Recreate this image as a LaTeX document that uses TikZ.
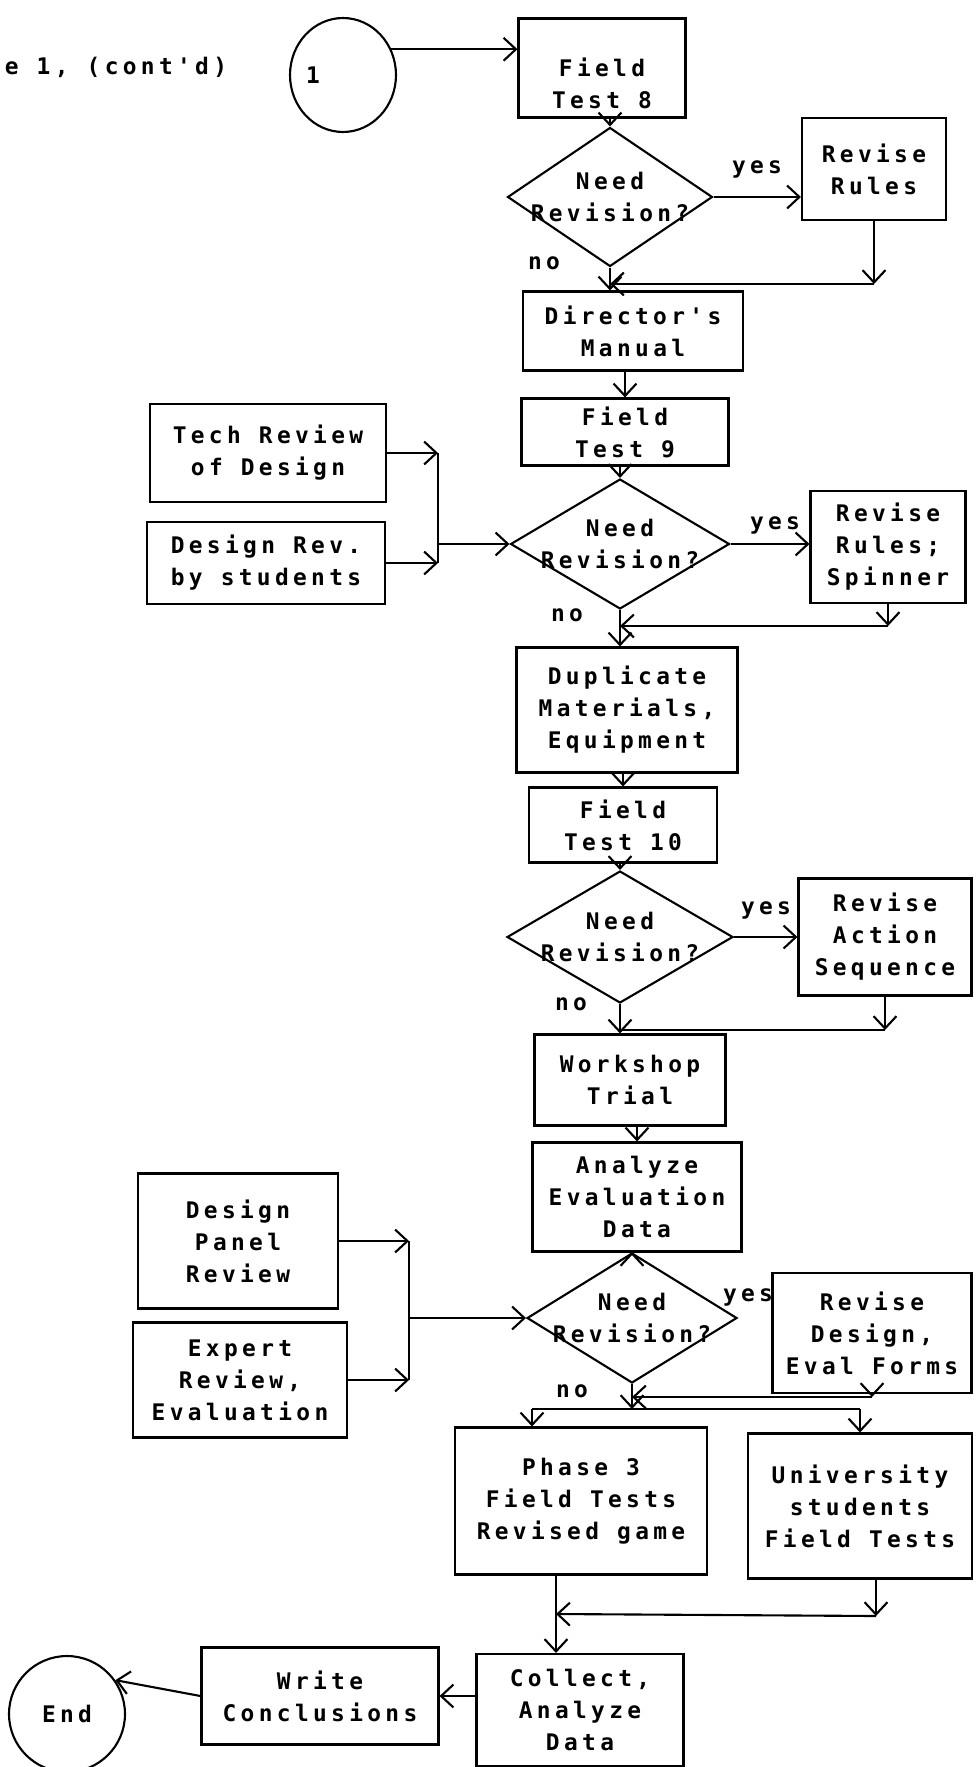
\documentclass[tikz,border=0pt]{standalone}
\usepackage{fontspec}
\newfontfamily\typewriter[LetterSpace=19]{DejaVu Sans Mono}
\usetikzlibrary{positioning, arrows.meta, shapes.geometric}

\begin{document}
\begin{tikzpicture}[x=0.02cm, y=-0.02cm, line width=1.2pt,
    every node/.style={font=\typewriter\bfseries\fontsize{13}{18.2}\selectfont},
    box/.style={draw, rectangle, align=center, inner sep=0pt},
    decision/.style={draw, diamond, aspect=1.6, align=center, inner sep=-9pt},
    terminal/.style={draw, ellipse, inner sep=0pt},
    arr/.style={-{Straight Barb[length=7pt, width=13pt]}}]
    \useasboundingbox (0,0) rectangle (976,1767);

    % --- continued from the first sheet ---
    \node[anchor=west] (title) at (-2,67) {e 1, (cont'd)};
    \node[terminal, minimum width=2.12cm, minimum height=2.28cm,
          text width=1.48cm, align=left] (start) at (343,75) {1};

    % --- field test 8 ---
    \node[box, minimum width=3.34cm, minimum height=1.98cm] (ft8) at (602,68) {\rule{0pt}{1cm}Field\\Test 8};
    \node[decision, minimum width=4.1cm, minimum height=2.78cm] (q1) at (610,197) {Need\\Revision?};
    \node[box, minimum width=2.88cm, minimum height=2.04cm] (rev1) at (874,169) {Revise\\Rules};
    \node (yes1) at (757,169) {yes};
    \node (no1) at (544,263) {no};
    \node[box, minimum width=4.4cm, minimum height=1.58cm] (dirman) at (633,331) {Director's\\Manual};

    % --- field test 9 ---
    \node[box, minimum width=4.14cm, minimum height=1.34cm] (ft9) at (625,432) {Field\\Test 9};
    \node[decision, minimum width=4.38cm, minimum height=2.6cm] (q2) at (620,544) {Need\\Revision?};
    \node[box, minimum width=3.1cm, minimum height=2.24cm] (rev2) at (888,547) {Revise\\Rules;\\Spinner};
    \node (yes2) at (775,525) {yes};
    \node (no2) at (567,615) {no};
    \node[box, minimum width=4.72cm, minimum height=1.96cm] (tech) at (268,453) {Tech Review\\of Design};
    \node[box, minimum width=4.76cm, minimum height=1.64cm] (studrev) at (266,563) {Design Rev.\\by students};
    \node[box, minimum width=4.42cm, minimum height=2.5cm] (dup) at (627,710) {Duplicate\\Materials,\\Equipment};

    % --- field test 10 ---
    \node[box, minimum width=3.76cm, minimum height=1.5cm] (ft10) at (623,825) {Field\\Test 10};
    \node[decision, minimum width=4.52cm, minimum height=2.64cm] (q3) at (620,937) {Need\\Revision?};
    \node[box, minimum width=3.46cm, minimum height=2.34cm] (rev3) at (885,937) {Revise\\Action\\Sequence};
    \node (yes3) at (766,910) {yes};
    \node (no3) at (571,1004) {no};

    % --- workshop and evaluation ---
    \node[box, minimum width=3.82cm, minimum height=1.82cm] (workshop) at (630,1080) {Workshop\\Trial};
    \node[box, minimum width=4.18cm, minimum height=2.18cm] (analyze) at (637,1197) {Analyze\\Evaluation\\Data};
    \node[decision, minimum width=4.2cm, minimum height=2.6cm] (q4) at (632,1318) {Need\\Revision?};
    \node[box, minimum width=3.98cm, minimum height=2.4cm] (rev4) at (872,1333) {Revise\\Design,\\Eval Forms};
    \node (yes4) at (748,1297) {yes};
    \node (no4) at (572,1391) {no};
    \node[box, minimum width=4cm, minimum height=2.7cm] (panel) at (238,1241) {Design\\Panel\\Review};
    \node[box, minimum width=4.28cm, minimum height=2.3cm] (expert) at (240,1380) {Expert\\Review,\\Evaluation};

    % --- phase 3 and wrap-up ---
    \node[box, minimum width=5.04cm, minimum height=2.94cm] (phase3) at (581,1501) {Phase 3\\Field Tests\\Revised game};
    \node[box, minimum width=4.48cm, minimum height=2.9cm] (univ) at (860,1506) {University\\students\\Field Tests};
    \node[box, minimum width=4.14cm, minimum height=2.24cm] (collect) at (580,1710) {Collect,\\Analyze\\Data};
    \node[box, minimum width=4.74cm, minimum height=1.94cm] (write) at (320,1696) {Write\\Conclusions};
    \node[terminal, minimum size=2.32cm] (endc) at (67,1714) {End};

    % junction points of the connectors
    \coordinate (c1) at (874,284);
    \coordinate (j1) at (q1.south |- c1);
    \coordinate (c2) at (888,626);
    \coordinate (j2) at (q2.south |- c2);
    \coordinate (c3) at (885,1030);
    \coordinate (j3) at (q3.south |- c3);
    \coordinate (c4) at (872,1397);
    \coordinate (j4) at (q4.south |- c4);
    \coordinate (f3) at (532,1409);
    \coordinate (c5) at (876,1616);
    \coordinate (j5) at (556,1614);
    \coordinate (bus2) at (438,500);
    \coordinate (bus4) at (409,1300);

    % main line
    \draw[arr] (start.28) -- (start.28 -| ft8.west);
    \draw[arr] (ft8.south -| q1.north) -- (q1.north);
    \draw[arr] (q1.south) -- (q1.south |- dirman.north);
    \draw[arr] (dirman.south -| ft9.north) -- (ft9.north);
    \draw[arr] (ft9.south -| q2.north) -- (q2.north);
    \draw[arr] (q2.south) -- (q2.south |- dup.north);
    \draw[arr] (dup.south -| ft10.north) -- (ft10.north);
    \draw[arr] (ft10.south -| q3.north) -- (q3.north);
    \draw[arr] (q3.south) -- (q3.south |- workshop.north);
    \draw[arr] (workshop.south -| analyze.north) -- (analyze.north);
    \draw[arr] (analyze.south -| q4.north) -- (q4.north);

    % yes branches and their returns
    \draw[arr] (q1.east) -- (q1.east -| rev1.west);
    \draw[arr] (rev1.south) -- (c1);
    \draw[arr] (c1) -- (j1);
    \draw[arr] (q2.east) -- (q2.east -| rev2.west);
    \draw[arr] (rev2.south) -- (c2);
    \draw[arr] (c2) -- (j2);
    \draw[arr] (q3.east) -- (q3.east -| rev3.west);
    \draw[arr] (rev3.south) -- (c3);
    \draw (c3) -- (j3);
    \draw[arr] (rev4.south) -- (c4);
    \draw[arr] (c4) -- (j4);

    % reviews feeding the decisions
    \draw[arr] (tech.east) -- (tech.east -| bus2);
    \draw[arr] (studrev.east) -- (studrev.east -| bus2);
    \draw (tech.east -| bus2) -- (studrev.east -| bus2);
    \draw[arr] (q2.west -| bus2) -- (q2.west);
    \draw[arr] (panel.east) -- (panel.east -| bus4);
    \draw[arr] (expert.east) -- (expert.east -| bus4);
    \draw (panel.east -| bus4) -- (expert.east -| bus4);
    \draw[arr] (q4.west -| bus4) -- (q4.west);

    % split into the two field tests
    \draw[arr] (q4.south) -- (q4.south |- f3);
    \draw (f3) -- (univ.north |- f3);
    \draw[arr] (f3) -- (f3 |- phase3.north);
    \draw[arr] (univ.north |- f3) -- (univ.north);

    % collect and finish
    \draw[arr] (univ.south -| c5) -- (c5);
    \draw[arr] (c5) -- (j5);
    \draw[arr] (phase3.south -| j5) -- (j5 |- collect.north);
    \draw[arr] (write.east -| collect.west) -- (write.east);
    \draw[arr] (write.west) -- (endc.35);
\end{tikzpicture}
\end{document}
